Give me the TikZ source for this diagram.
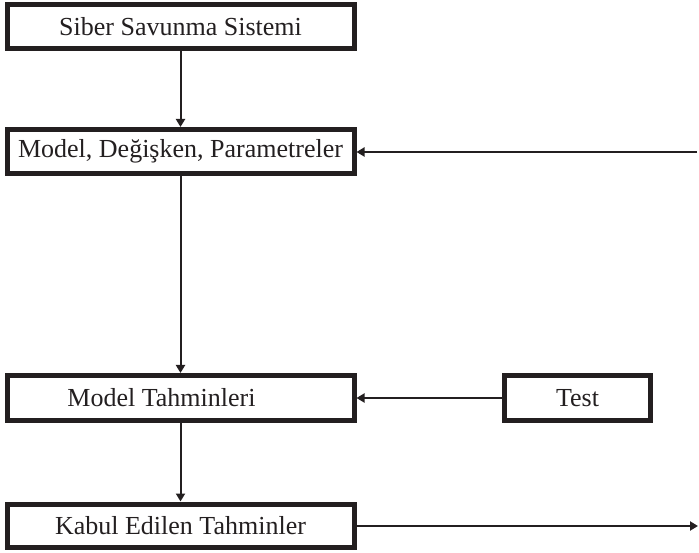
\documentclass[tikz,border=0pt]{standalone}
\usepackage{fontspec}
\setmainfont{Liberation Serif}
\usetikzlibrary{arrows.meta}
\definecolor{ink}{RGB}{35,31,32}
\tikzset{
  stagebox/.style={draw=ink, line width=5pt, inner sep=0pt, minimum width=347pt,
    font=\fontsize{26}{31}\selectfont, text=ink},
  smallbox/.style={stagebox, minimum width=146pt},
  lbl/.style={inner sep=0pt, font=\fontsize{26}{31}\selectfont, text=ink},
  flow/.style={draw=ink, line width=2pt, -{Triangle[length=8pt,width=9pt]}}
}
\begin{document}
\begin{tikzpicture}[x=1pt,y=-1pt]
\useasboundingbox (0,0) rectangle (699,553);
% stages of the process
\node[stagebox, minimum height=44.5pt] (sys)  at (180.5,26.75) {Siber Savunma Sistemi};
\node[stagebox, minimum height=44pt]   (mdl)  at (180.5,151.5) {Model, Değişken, Parametreler};
\node[stagebox, minimum height=45pt]   (pred) at (180.5,398) {};
\node[lbl, xshift=-19pt] (predtxt) at (pred) {Model Tahminleri};
\node[stagebox, minimum height=43.5pt] (acc)  at (180.5,525.75) {Kabul Edilen Tahminler};
\node[smallbox, minimum height=45pt]   (test) at (577.5,398) {Test};
% loose ends at the right margin
\coordinate (fb)  at (697,152);
\coordinate (out) at (698,526);
% connectors
\draw[flow] (sys) -- (mdl);
\draw[flow] (mdl) -- (pred);
\draw[flow] (pred) -- (acc);
\draw[flow] (fb) -- (mdl.east |- fb);
\draw[flow] (test) -- (pred);
\draw[flow] (acc.east |- out) -- (out);
\end{tikzpicture}
\end{document}
